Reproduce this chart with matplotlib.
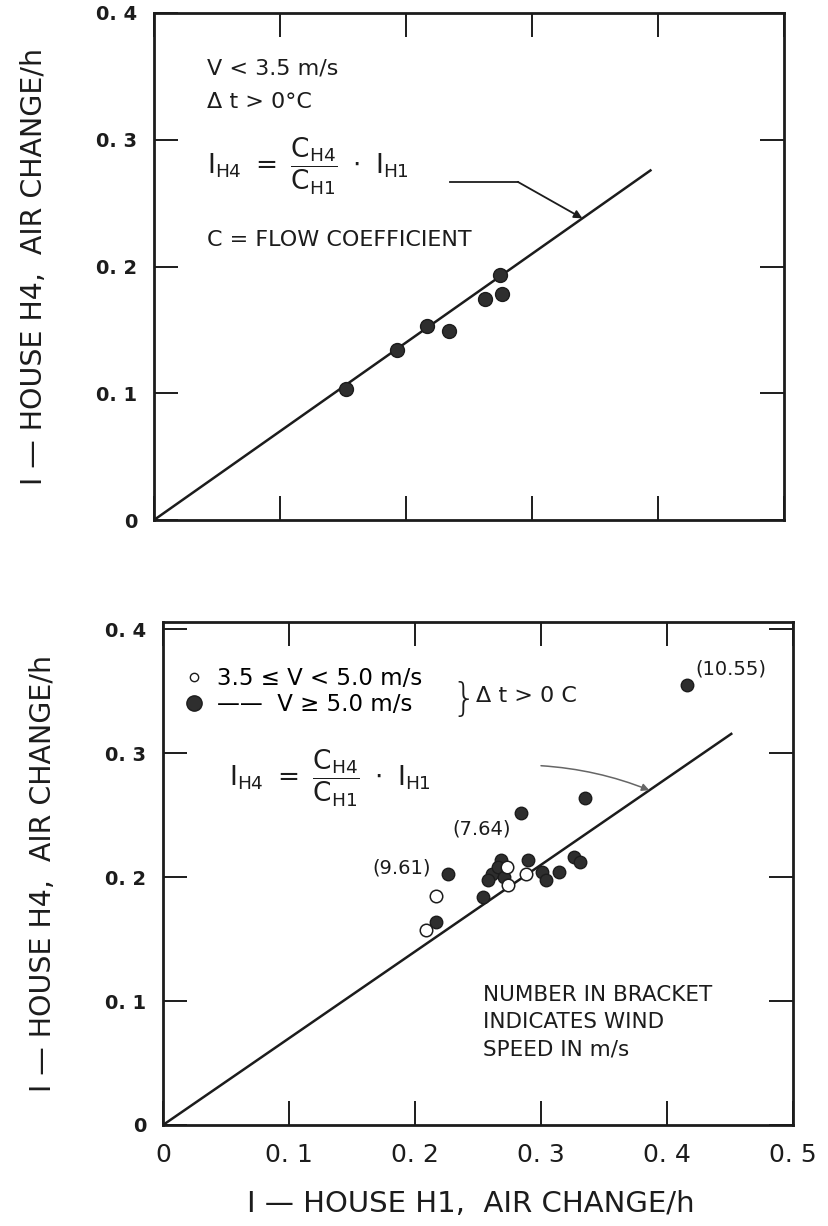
import matplotlib.pyplot as plt
from matplotlib.lines import Line2D

plt.rcParams['font.family'] = ['DejaVu Sans']
plt.rcParams['mathtext.fontset'] = 'dejavusans'

# ---- infiltration rates, air changes per hour ----
# upper panel: V < 3.5 m/s
calm_h1 = [0.152, 0.193, 0.217, 0.234, 0.263, 0.276, 0.275]
calm_h4 = [0.103, 0.134, 0.153, 0.149, 0.174, 0.178, 0.193]

# lower panel, open symbols: 3.5 <= V < 5.0 m/s
moderate_h1 = [0.209, 0.2165, 0.273, 0.274, 0.288]
moderate_h4 = [0.157, 0.185, 0.208, 0.1935, 0.203]

# lower panel, filled symbols: V >= 5.0 m/s
windy_h1 = [0.416, 0.284, 0.226, 0.335, 0.2165, 0.254, 0.268, 0.261, 0.258,
            0.266, 0.271, 0.290, 0.301, 0.304, 0.314, 0.326, 0.331]
windy_h4 = [0.355, 0.252, 0.203, 0.264, 0.164, 0.184, 0.214, 0.203, 0.1976,
            0.208, 0.200, 0.214, 0.204, 0.1976, 0.204, 0.216, 0.212]

# wind speed (m/s) written next to the first three windy points
wind_speeds = ["(10.55)", "(7.64)", "(9.61)"]

# flow coefficient ratio C_H4 / C_H1 and how far the line is drawn
flow_ratio = 0.70
line_end_top = 0.394
line_end_bottom = 0.451

x_ticks = [0, 0.1, 0.2, 0.3, 0.4, 0.5]
x_tick_labels = ["0", "0. 1", "0. 2", "0. 3", "0. 4", "0. 5"]
y_ticks = [0, 0.1, 0.2, 0.3, 0.4]
y_tick_labels = ["0", "0. 1", "0. 2", "0. 3", "0. 4"]

INK = "#1c1c1c"
DOT = "#2e2e2e"
EQUATION = r"$\mathregular{I_{H4}\ =\ \dfrac{C_{H4}}{C_{H1}}\ \cdot\ I_{H1}}$"


def style_axes(ax, ymax):
    ax.set_xlim(0, 0.5)
    ax.set_ylim(0, ymax)
    ax.set_xticks(x_ticks)
    ax.set_yticks(y_ticks)
    ax.set_yticklabels(y_tick_labels, fontsize=14, fontweight="bold", color=INK)
    ax.tick_params(direction="in", length=17, width=1.4, top=True, right=True,
                   color=INK)
    ax.tick_params(axis="y", pad=12)
    for s in ax.spines.values():
        s.set_linewidth(2.0)
        s.set_color(INK)
    ax.set_ylabel("I — HOUSE H4,  AIR CHANGE/h", fontsize=20.5, color=INK)
    ax.yaxis.set_label_coords(-0.168, 0.5)


fig = plt.figure(figsize=(8.29, 12.26), dpi=100)

# ---------------- upper panel ----------------
ax1 = fig.add_axes([154 / 829, 1 - 520 / 1226, 630 / 829, 507 / 1226])
style_axes(ax1, 0.4)
ax1.tick_params(axis="x", labelbottom=False)

ax1.plot([0, line_end_top], [0, flow_ratio * line_end_top], color=INK, lw=1.8)
ax1.plot(calm_h1, calm_h4, "o", ms=10, mfc=DOT, mec=INK, mew=1)

ax1.text(0.084, 0.891, "V < 3.5 m/s", transform=ax1.transAxes,
         fontsize=16, va="center", color=INK)
ax1.text(0.084, 0.824, "Δ t > 0°C", transform=ax1.transAxes,
         fontsize=16, va="center", color=INK)
ax1.text(0.084, 0.697, EQUATION, transform=ax1.transAxes,
         fontsize=19, va="center", color=INK)
ax1.text(0.084, 0.552, "C = FLOW COEFFICIENT", transform=ax1.transAxes,
         fontsize=16, va="center", color=INK)

# pointer from the equation to the line
tip_top = 0.340
ax1.plot([0.2346, 0.2887], [0.2668, 0.2668], color=INK, lw=1.3)
ax1.annotate("", xy=(tip_top, flow_ratio * tip_top), xytext=(0.2887, 0.2668),
             arrowprops=dict(arrowstyle="-|>", color=INK, lw=1.3,
                             mutation_scale=12, shrinkA=0, shrinkB=0))

# ---------------- lower panel ----------------
ax2 = fig.add_axes([163 / 829, 1 - 1125 / 1226, 630 / 829, 503 / 1226])
style_axes(ax2, 0.406)
ax2.set_xticklabels(x_tick_labels, fontsize=18, color=INK)
ax2.tick_params(axis="x", pad=13)
ax2.set_xlabel("I — HOUSE H1,  AIR CHANGE/h", fontsize=21, color=INK)
ax2.xaxis.set_label_coords(0.488, -0.13)

ax2.plot([0, line_end_bottom], [0, flow_ratio * line_end_bottom], color=INK, lw=1.8)
ax2.plot(windy_h1, windy_h4, "o", ms=9, mfc=DOT, mec=INK, mew=1)
ax2.plot(moderate_h1, moderate_h4, "o", ms=9, mfc="white", mec=INK, mew=1.1)

offsets = [(6, 12), (-7, -12), (-12, 4)]
for label, x, y, off in zip(wind_speeds, windy_h1, windy_h4, offsets):
    ha = "left" if off[0] > 0 else "right"
    ax2.annotate(label, xy=(x, y), xytext=off, textcoords="offset points",
                 ha=ha, va="center", fontsize=14, color=INK)

handles = [
    Line2D([], [], marker="o", ls="none", ms=6, mfc="white", mec=INK, mew=1),
    Line2D([], [], marker="o", ls="none", ms=11, mfc=DOT, mec=INK),
]
ax2.legend(handles, ["3.5 ≤ V < 5.0 m/s", "——  V ≥ 5.0 m/s"],
           loc="upper left", bbox_to_anchor=(0.035, 0.91), frameon=False,
           fontsize=16.5, handlelength=0.8, handletextpad=0.6,
           labelspacing=0.1, borderpad=0, borderaxespad=0)
ax2.text(0.458, 0.845, "}", transform=ax2.transAxes, fontsize=28,
         va="center", ha="left", color=INK, fontweight="light")
ax2.text(0.497, 0.852, "Δ t > 0 C", transform=ax2.transAxes,
         fontsize=16, va="center", color=INK)
ax2.text(0.105, 0.690, EQUATION, transform=ax2.transAxes,
         fontsize=19, va="center", color=INK)

# faint pointer from the equation to the line
tip_bottom = 0.386
ax2.annotate("", xy=(tip_bottom, flow_ratio * tip_bottom), xytext=(0.300, 0.290),
             arrowprops=dict(arrowstyle="-|>", color="#666666", lw=1.1,
                             mutation_scale=11, shrinkA=0, shrinkB=0,
                             connectionstyle="arc3,rad=-0.08"))

ax2.text(0.508, 0.205, "NUMBER IN BRACKET\nINDICATES WIND\nSPEED IN m/s",
         transform=ax2.transAxes, fontsize=15.5, va="center", ha="left",
         linespacing=1.45, color=INK)

fig.savefig("out.png", dpi=100, facecolor="white")
